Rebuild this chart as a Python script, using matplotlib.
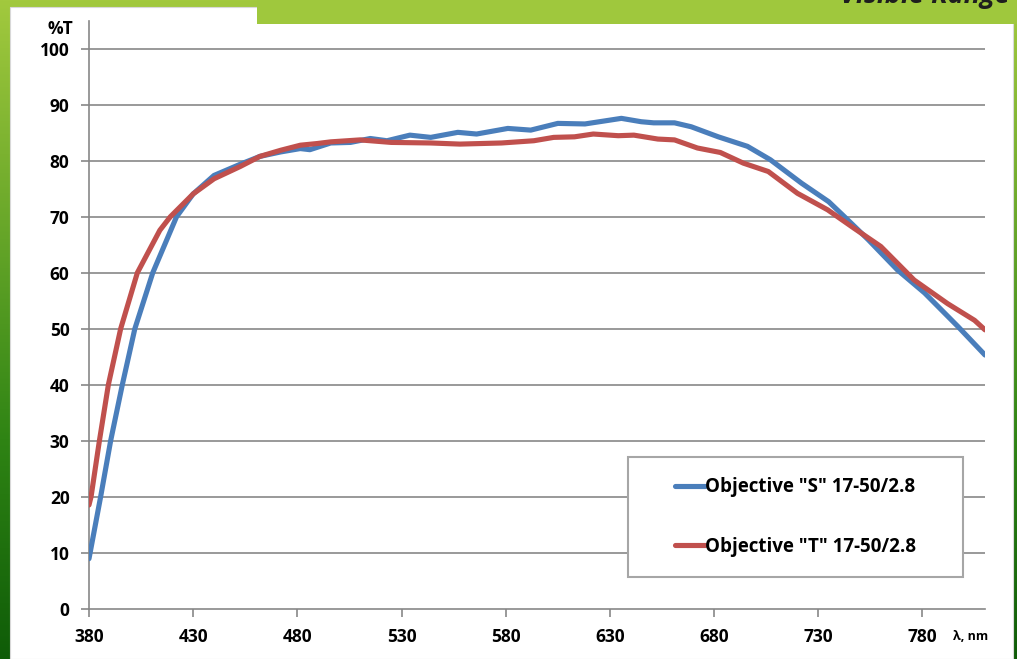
import numpy as np
import matplotlib.pyplot as plt
from matplotlib.patches import Rectangle
from matplotlib.colors import LinearSegmentedColormap

# ---- data ----
wl_s = [380, 385.6, 390.4, 396, 402, 410.6, 422, 430, 440, 452.6, 462, 472,
        481.4, 486, 496, 505.5, 515, 523, 534, 544, 557, 566, 581, 592, 605,
        618, 635.5, 645, 651, 661, 669, 682, 696, 707, 722, 735, 744, 754,
        768, 781, 797, 810]
t_s = [8.9, 20, 30, 40, 50, 60, 70, 74.1, 77.4, 79.4, 80.8, 81.6,
       82.2, 82.0, 83.2, 83.3, 84.0, 83.6, 84.6, 84.2, 85.1, 84.8, 85.8, 85.5, 86.7,
       86.6, 87.6, 87.0, 86.8, 86.8, 86.1, 84.3, 82.6, 80.2, 76.0, 72.7, 69.5, 65.9,
       60.5, 56.4, 50.4, 45.3]

wl_t = [380, 381, 385, 389.3, 395.2, 403.2, 414, 419, 430, 440, 452.6, 462,
        472, 481.4, 489.5, 496, 510, 525, 544, 558, 578, 593.5, 603, 613, 622,
        634, 641.5, 653, 661, 672, 683, 694, 706, 720, 734.5, 747, 760, 776,
        792, 805, 810]
t_t = [18.5, 20, 30, 40, 50, 60, 67.6, 70, 74.1, 76.8, 79.0, 80.8,
       81.9, 82.8, 83.1, 83.4, 83.75, 83.3, 83.2, 83.0, 83.2, 83.6, 84.2, 84.3, 84.8,
       84.5, 84.6, 83.9, 83.75, 82.3, 81.5, 79.6, 78.1, 74.2, 71.25, 68.0, 64.7, 58.7,
       54.5, 51.5, 49.8]

labels = ['Objective "S" 17-50/2.8', 'Objective "T" 17-50/2.8']
xticks = list(range(380, 781, 50))
yticks = list(range(0, 101, 10))

BLUE = "#4a7ebb"
RED = "#c0504d"
GRID = "#878787"
FONT = "Open Sans"

W, H = 1017, 659
fig = plt.figure(figsize=(W / 100, H / 100), dpi=100)

# green gradient background
bg = fig.add_axes([0, 0, 1, 1], zorder=-10)
grad = np.linspace(0, 1, 256).reshape(-1, 1)
cmap = LinearSegmentedColormap.from_list("g", ["#a2c93e", "#6aa82a", "#2f8414", "#0f5c08"])
bg.imshow(grad, aspect="auto", cmap=cmap, extent=[0, 1, 0, 1])
bg.set_axis_off()

# white panel + top-right green tab
fig.patches.append(Rectangle((10 / W, 0), 1003 / W, (H - 7) / H, transform=fig.transFigure,
                             facecolor="white", edgecolor="#d8d8d8", lw=0.8, zorder=-5))
fig.patches.append(Rectangle((257 / W, (H - 24) / H), 760 / W, 24 / H, transform=fig.transFigure,
                             facecolor="#9fc83d", edgecolor="none", zorder=-4))
# header title, cut off by the top edge as in the source slide
fig.text(1010 / W, (H - 3) / H, "Visible Range", ha="right", va="baseline",
         fontsize=19.5, fontweight="bold", fontstyle="italic", color="#1e1e1e", family=FONT)

ax = fig.add_axes([89 / W, 50.5 / H, 896 / W, 587.5 / H])
ax.set_facecolor("none")
ax.plot(wl_s, t_s, color=BLUE, lw=3.7, solid_joinstyle="round", solid_capstyle="round",
        label=labels[0], zorder=3)
ax.plot(wl_t, t_t, color=RED, lw=3.7, solid_joinstyle="round", solid_capstyle="round",
        label=labels[1], zorder=3)

ax.set_xlim(380, 810)
ax.set_ylim(0, 105)
ax.set_xticks(xticks)
ax.set_yticks(yticks)
for y in yticks[1:]:
    ax.axhline(y, color=GRID, lw=1.2, zorder=1)

for s in ["top", "right"]:
    ax.spines[s].set_visible(False)
for s in ["left", "bottom"]:
    ax.spines[s].set_color(GRID)
    ax.spines[s].set_linewidth(1.2)
ax.tick_params(axis="both", direction="out", length=6, width=1.2, color=GRID)
ax.tick_params(axis="x", pad=8)
ax.tick_params(axis="y", pad=8)
for lab in ax.get_xticklabels() + ax.get_yticklabels():
    lab.set_fontsize(12.5)
    lab.set_fontweight("bold")
    lab.set_family(FONT)

ax.text(73 / W, (H - 29) / H, "%T", transform=fig.transFigure, ha="right", va="center",
        fontsize=12.5, fontweight="bold", family=FONT)
ax.text(953 / W, (H - 637) / H, "λ, nm", transform=fig.transFigure, ha="left", va="center",
        fontsize=9, fontweight="bold", family=FONT)

# legend box
x0, x1 = (628 - 89) / 896, (963 - 89) / 896
y0, y1 = (608.5 - 577) / 587.5, (608.5 - 457) / 587.5
ax.add_patch(Rectangle((x0, y0), x1 - x0, y1 - y0, transform=ax.transAxes,
                       facecolor="white", edgecolor="#a6a6a6", lw=1.5, zorder=4))
leg = ax.legend(loc="center", bbox_to_anchor=((x0 + x1) / 2, (y0 + y1) / 2), frameon=False,
                handlelength=1.6, handletextpad=0.0, labelspacing=2.1,
                prop={"family": FONT, "weight": "bold", "size": 13.5})
leg.set_zorder(5)

fig.savefig("out.png", dpi=100)
